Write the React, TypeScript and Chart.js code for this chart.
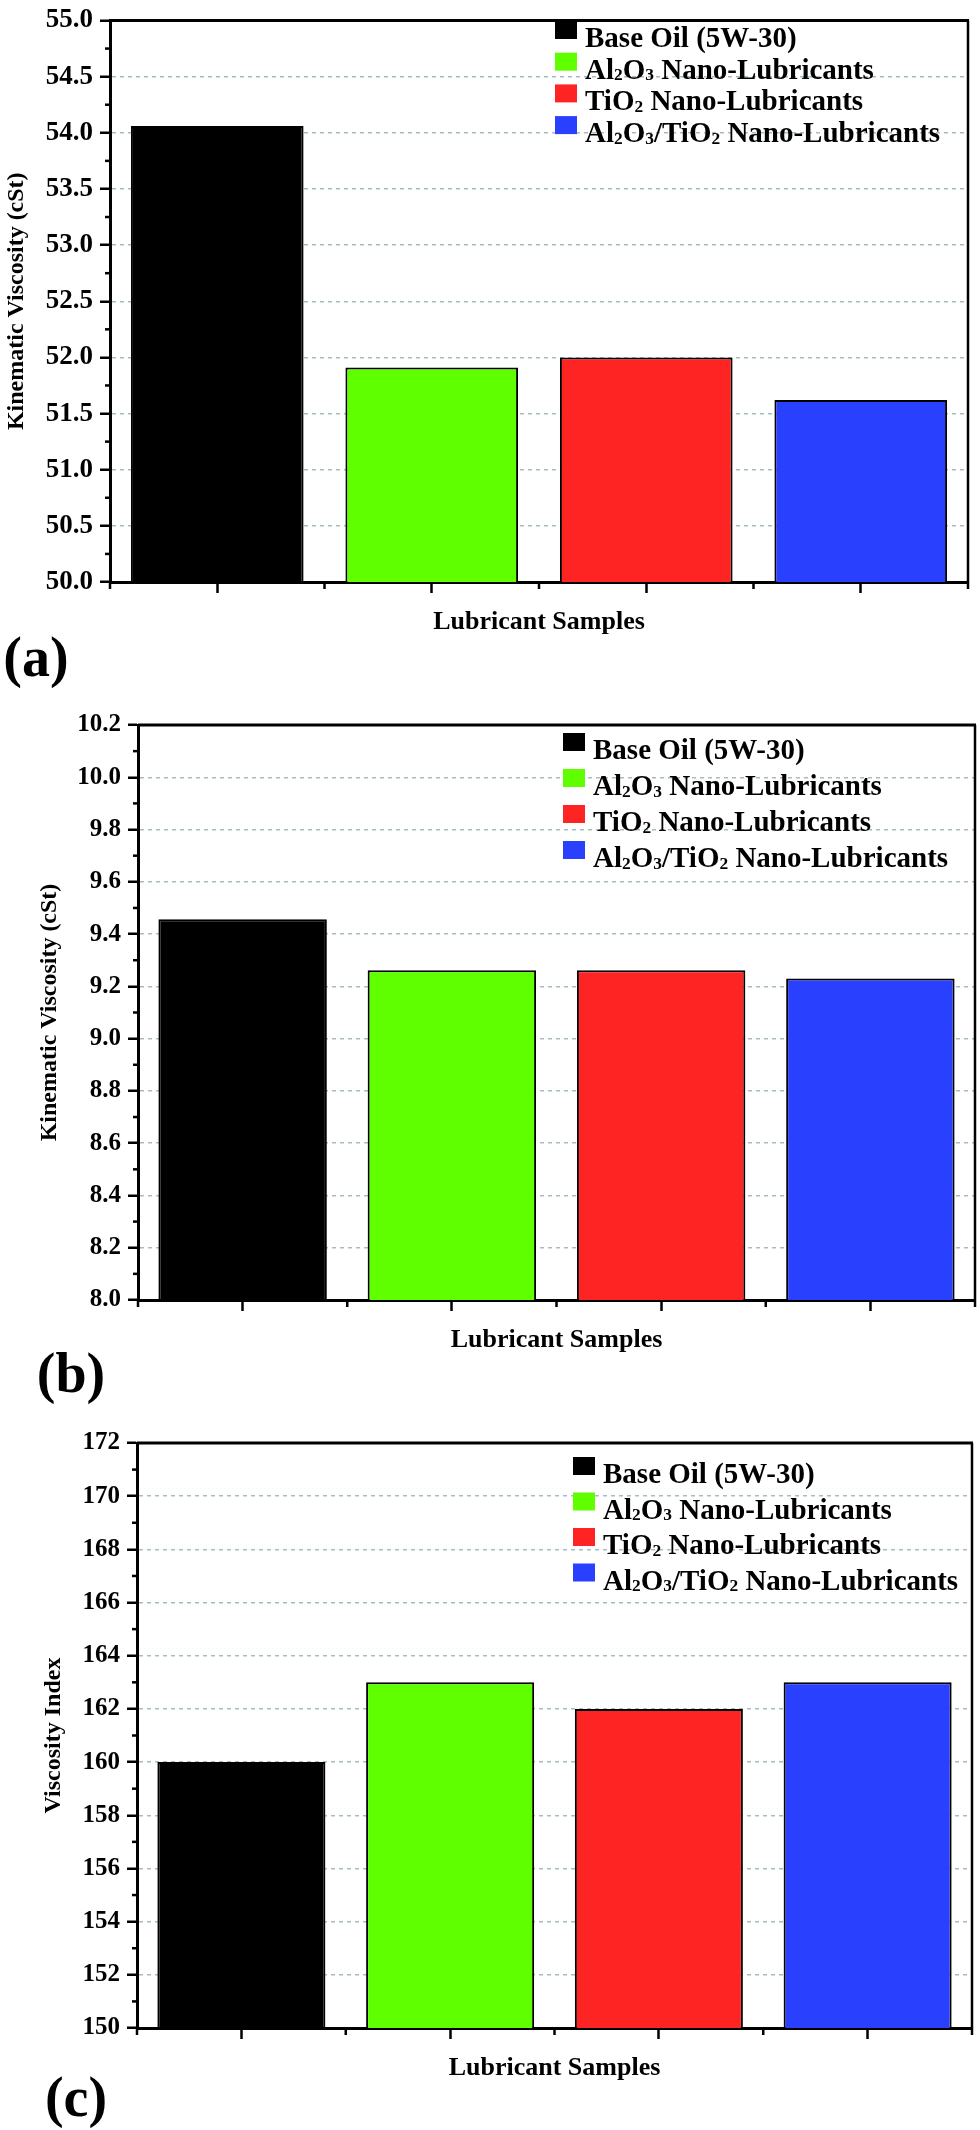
import React, { useEffect, useRef } from "react";
import { Chart, registerables } from "chart.js";

Chart.register(...registerables);

// ---------- data ----------
const categories = [
  "Base Oil (5W-30)",
  "Al₂O₃ Nano-Lubricants",
  "TiO₂ Nano-Lubricants",
  "Al₂O₃/TiO₂ Nano-Lubricants",
];
const barColors = ["#000000", "#5fff00", "#ff2424", "#2a40ff"];
const kinematicViscosityA = [54.06, 51.91, 52.0, 51.62];
const kinematicViscosityB = [9.457, 9.262, 9.262, 9.23];
const viscosityIndex = [160, 163, 162, 163];
const yRangeA = [50, 55, 0.5];
const yRangeB = [8.0, 10.2, 0.2];
const yRangeC = [150, 172, 2];
const yTitleKV = "Kinematic Viscosity (cSt)";
const yTitleVI = "Viscosity Index";
const xTitle = "Lubricant Samples";
const panelLetters = ["(a)", "(b)", "(c)"];

const FONT = '"Liberation Serif", "Times New Roman", serif';
const X_AXIS_H = 53;
const SUBS: Record<string, string> = { "₂": "2", "₃": "3" };

type PanelCfg = {
  values: number[];
  yRange: number[];
  decimals: number;
  yTitle: string;
  letter: string;
  top: number;
  plotTop: number;
  plotBottom: number;
  plotLeft: number;
  plotRight: number;
  yTitleX: number;
  tickSize: number;
  legendX: number;
  legendBaseline: number;
  legendGap: number;
  letterX: number;
  letterY: number;
};

const panels: PanelCfg[] = [
  {
    values: kinematicViscosityA, yRange: yRangeA, decimals: 1, yTitle: yTitleKV, letter: panelLetters[0],
    top: 0, plotTop: 14, plotBottom: 582, plotLeft: 110, plotRight: 968,
    yTitleX: 17, tickSize: 27, legendX: 585, legendBaseline: 47, legendGap: 31.7,
    letterX: 36, letterY: 657,
  },
  {
    values: kinematicViscosityB, yRange: yRangeB, decimals: 1, yTitle: yTitleKV, letter: panelLetters[1],
    top: 690, plotTop: 725, plotBottom: 1300, plotLeft: 138, plotRight: 975,
    yTitleX: 50, tickSize: 25, legendX: 593, legendBaseline: 759, legendGap: 36,
    letterX: 71, letterY: 1373,
  },
  {
    values: viscosityIndex, yRange: yRangeC, decimals: 0, yTitle: yTitleVI, letter: panelLetters[2],
    top: 1410, plotTop: 1443, plotBottom: 2028, plotLeft: 137, plotRight: 972,
    yTitleX: 54, tickSize: 25, legendX: 603, legendBaseline: 1483, legendGap: 35.5,
    letterX: 76, letterY: 2097,
  },
];

function drawRich(ctx: CanvasRenderingContext2D, text: string, x: number, baseline: number, size: number) {
  let cx = x;
  let run = "";
  const flush = () => {
    if (!run) return;
    ctx.font = `bold ${size}px ${FONT}`;
    ctx.fillText(run, cx, baseline);
    cx += ctx.measureText(run).width;
    run = "";
  };
  for (const ch of Array.from(text)) {
    if (SUBS[ch]) {
      flush();
      const s = size * 0.6;
      ctx.font = `bold ${s}px ${FONT}`;
      ctx.fillText(SUBS[ch], cx, baseline + size * 0.06);
      cx += ctx.measureText(SUBS[ch]).width;
    } else {
      run += ch;
    }
  }
  flush();
}

function Panel({ cfg }: { cfg: PanelCfg }) {
  const ref = useRef<HTMLCanvasElement | null>(null);
  const height = cfg.plotBottom + X_AXIS_H - cfg.top;

  useEffect(() => {
    const canvas = ref.current;
    if (!canvas) return;
    const [yMin, yMax, yStep] = cfg.yRange;
    const nSteps = Math.round((yMax - yMin) / yStep);

    const overlay = {
      id: "overlay",
      afterDraw(chart: any) {
        const { ctx, chartArea: ca, scales } = chart;
        const xs = scales.x;
        const ys = scales.y;
        ctx.save();
        ctx.strokeStyle = "#000";
        ctx.setLineDash([]);
        // frame top / right
        ctx.lineWidth = 3;
        ctx.beginPath();
        ctx.moveTo(ca.left, ca.top);
        ctx.lineTo(ca.right + 1, ca.top);
        ctx.stroke();
        ctx.lineWidth = 2.5;
        ctx.beginPath();
        ctx.moveTo(ca.right, ca.top);
        ctx.lineTo(ca.right, ca.bottom);
        ctx.stroke();
        // minor y ticks
        ctx.lineWidth = 2.5;
        for (let i = 0; i < nSteps; i++) {
          const v = yMin + yStep * (i + 0.5);
          const py = ys.getPixelForValue(v);
          ctx.beginPath();
          ctx.moveTo(ca.left - 5, py);
          ctx.lineTo(ca.left, py);
          ctx.stroke();
        }
        // minor x ticks at category boundaries
        const n = categories.length;
        for (let i = 0; i <= n; i++) {
          const px =
            i === 0 ? ca.left : i === n ? ca.right : (xs.getPixelForValue(i - 1) + xs.getPixelForValue(i)) / 2;
          ctx.beginPath();
          ctx.moveTo(px, ca.bottom);
          ctx.lineTo(px, ca.bottom + 7);
          ctx.stroke();
        }
        // legend
        ctx.textBaseline = "alphabetic";
        ctx.textAlign = "left";
        ctx.fillStyle = "#000";
        categories.forEach((label, i) => {
          const base = cfg.legendBaseline - cfg.top + i * cfg.legendGap;
          ctx.fillStyle = barColors[i];
          ctx.fillRect(cfg.legendX - 30, base - 26, 22, 18);
          ctx.fillStyle = "#000";
          drawRich(ctx, label, cfg.legendX, base, 29);
        });
        ctx.restore();
      },
    };

    const chart = new Chart(canvas, {
      type: "bar",
      data: {
        labels: categories,
        datasets: [
          {
            data: cfg.values,
            backgroundColor: barColors,
            borderColor: "#000",
            borderWidth: 2,
            categoryPercentage: 1,
            barPercentage: 0.805,
          },
        ],
      },
      options: {
        responsive: false,
        animation: false,
        devicePixelRatio: 1,
        layout: {
          padding: { top: cfg.plotTop - cfg.top, left: 0, right: 980 - cfg.plotRight, bottom: 0 },
        },
        plugins: { legend: { display: false }, tooltip: { enabled: false } },
        scales: {
          x: {
            type: "category",
            offset: true,
            grid: {
              display: true,
              drawOnChartArea: false,
              offset: false,
              drawTicks: true,
              tickLength: 11,
              tickWidth: 2.5,
              tickColor: "#000",
              color: "rgba(0,0,0,0)",
            },
            border: { display: true, color: "#000", width: 3 },
            ticks: { display: false },
            title: {
              display: true,
              text: xTitle,
              color: "#000",
              font: { family: FONT, size: 26, weight: "bold", lineHeight: 1 },
              padding: { top: 0, bottom: 0 },
            },
            afterFit: (s: any) => {
              s.height = X_AXIS_H;
            },
          },
          y: {
            type: "linear",
            min: yMin,
            max: yMax,
            grid: {
              color: (c: any) => {
                const v = c.tick ? c.tick.value : NaN;
                if (Math.abs(v - yMin) < 1e-6 || Math.abs(v - yMax) < 1e-6) return "rgba(0,0,0,0)";
                return "rgba(160,184,190,0.95)";
              },
              lineWidth: 1.5,
              drawTicks: true,
              tickLength: 10,
              tickWidth: 2.5,
              tickColor: "#000",
            },
            border: { display: true, color: "#000", width: 3, dash: [4, 4] },
            ticks: {
              stepSize: yStep,
              color: "#000",
              padding: 7,
              font: { family: FONT, size: cfg.tickSize, weight: "bold", lineHeight: 1 },
              callback: (v: any) => Number(v).toFixed(cfg.decimals),
            },
            title: {
              display: true,
              text: cfg.yTitle,
              color: "#000",
              font: { family: FONT, size: 24, weight: "bold", lineHeight: 1 },
              padding: { top: cfg.yTitleX - 12, bottom: 0 },
            },
            afterFit: (s: any) => {
              s.width = cfg.plotLeft;
            },
          },
        },
      } as any,
      plugins: [overlay],
    });
    return () => chart.destroy();
  }, []);

  return (
    <>
      <canvas
        ref={ref}
        width={980}
        height={height}
        style={{ position: "absolute", left: 0, top: cfg.top, width: 980, height }}
      />
      <div
        style={{
          position: "absolute",
          left: cfg.letterX,
          top: cfg.letterY,
          transform: "translate(-50%, -50%)",
          font: `bold 56px ${FONT}`,
          lineHeight: 1,
          color: "#000",
          whiteSpace: "nowrap",
        }}
      >
        {cfg.letter}
      </div>
    </>
  );
}

export default function App() {
  return (
    <div
      style={{
        position: "absolute",
        left: 0,
        top: 0,
        width: 980,
        height: 2130,
        background: "#fff",
        overflow: "hidden",
      }}
    >
      {panels.map((p, i) => (
        <Panel key={i} cfg={p} />
      ))}
    </div>
  );
}
